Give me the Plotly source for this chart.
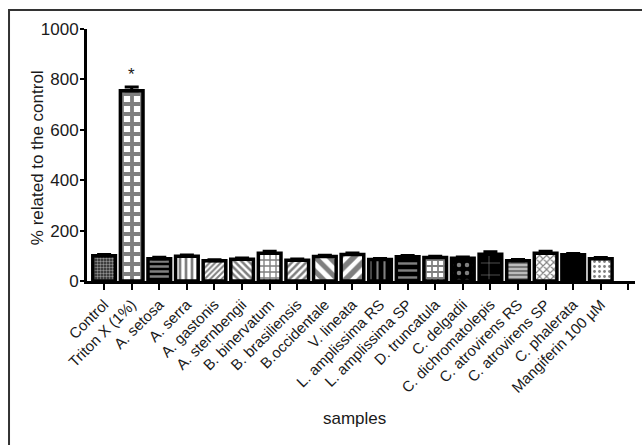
import plotly.graph_objects as go

# Samples tested and the response relative to the untreated control
samples = ["Control", "Triton X (1%)", "A. setosa", "A. serra", "A. gastonis",
           "A. sternbengii", "B. binervatum", "B. brasiliensis", "B.occidentale",
           "V. lineata", "L. amplissima RS", "L. amplissima SP", "D. truncatula",
           "C. delgadii", "C. dichromatolepis", "C. atrovirens RS",
           "C. atrovirens SP", "C. phalerata", "Mangiferin 100 µM"]
values = [100, 755, 88, 98, 80, 86, 110, 82, 97, 105, 85, 96, 93, 90, 106,
          80, 110, 104, 88]
errors = [5, 15, 6, 5, 4, 5, 8, 5, 5, 6, 4, 5, 5, 5, 10, 5, 8, 5, 5]

y_ticks = [0, 200, 400, 600, 800, 1000]

# Fill pattern for each bar (GraphPad-style hatches):
# shape, cell size, solidity, foreground, background
hatch = [
    (".", 3, 0.5, "#fff", "#222"),
    ("+", 10, 0.62, "#000", "#fff"),
    ("-", 5, 0.5, "#fff", "#000"),
    ("|", 6, 0.45, "#000", "#fff"),
    ("/", 4, 0.5, "#000", "#fff"),
    ("\\", 5, 0.5, "#000", "#fff"),
    ("+", 6, 0.4, "#000", "#fff"),
    ("/", 5, 0.5, "#000", "#fff"),
    ("\\", 10, 0.5, "#000", "#fff"),
    ("/", 10, 0.55, "#000", "#fff"),
    ("|", 7, 0.3, "#fff", "#000"),
    ("-", 7, 0.35, "#fff", "#000"),
    ("+", 6, 0.5, "#000", "#fff"),
    (".", 8, 0.25, "#fff", "#000"),
    ("+", 12, 0.1, "#fff", "#000"),
    ("-", 4, 0.5, "#333", "#bbb"),
    ("x", 5, 0.4, "#000", "#fff"),
    ("", 6, 0.3, "#000", "#000"),
    (".", 5, 0.25, "#000", "#fff"),
]

text_col = "#1a1a1a"
font_fam = "Liberation Sans, Arial, sans-serif"

fig = go.Figure()
for i, name in enumerate(samples):
    shape, size, sol, fg, bg = hatch[i]
    fig.add_trace(go.Bar(
        x=[i], y=[values[i]], width=0.82, name=name,
        marker=dict(
            color=bg,
            line=dict(color="#000", width=3.5),
            pattern=dict(shape=shape, size=size, solidity=sol,
                         fgcolor=fg, bgcolor=bg),
        ),
        error_y=dict(type="data", array=[errors[i]], arrayminus=[0],
                     symmetric=False, color="#000", thickness=3, width=7),
        showlegend=False,
    ))

# Significance marker above Triton X
fig.add_annotation(x=1, y=values[1] + errors[1], text="*", showarrow=False,
                   yanchor="bottom", yshift=1,
                   font=dict(size=17, color=text_col, family=font_fam))

fig.update_layout(
    width=642, height=445,
    margin=dict(l=87, r=7, t=29, b=164),
    plot_bgcolor="#fff", paper_bgcolor="#fff",
    font=dict(family=font_fam, color=text_col),
    barmode="overlay",
    xaxis=dict(
        range=[-0.62, 19.24],
        tickvals=list(range(len(samples) + 1)),
        ticktext=samples + [""],
        tickangle=-45,
        tickfont=dict(size=15, color=text_col),
        ticks="outside", ticklen=6, tickwidth=2, tickcolor="#000",
        showline=True, linecolor="#000", linewidth=3,
        showgrid=False, zeroline=False,
    ),
    yaxis=dict(
        range=[0, 1000],
        tickvals=y_ticks,
        tickfont=dict(size=17, color=text_col),
        ticks="outside", ticklen=4, tickwidth=2, tickcolor="#000",
        ticklabelstandoff=-2,
        showline=True, linecolor="#000", linewidth=3,
        showgrid=False, zeroline=False,
    ),
    annotations=list(fig.layout.annotations) + [
        dict(text="% related to the control", textangle=-90,
             xref="paper", yref="paper", x=-0.111, y=0.49,
             showarrow=False, font=dict(size=17, color=text_col)),
        dict(text="samples", xref="paper", yref="paper", x=0.489, y=-0.591,
             showarrow=False, font=dict(size=17, color=text_col)),
    ],
    shapes=[dict(type="rect", xref="paper", yref="paper",
                 x0=-0.1423, x1=2, y0=-2, y1=1.0754,
                 line=dict(color="#333", width=2))],
)

fig.write_html("out.html")
